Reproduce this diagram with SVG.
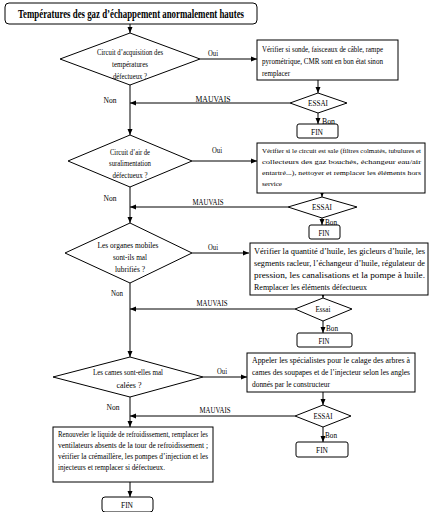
<svg xmlns="http://www.w3.org/2000/svg" width="430" height="512" viewBox="0 0 430 512">
<style>
text{font-family:"Liberation Serif","Times New Roman",serif;fill:#000;font-size:8.5px}
.c{text-anchor:middle}
.t{font-weight:bold;font-size:11.5px}
.sm{font-size:7px}
.s{fill:#fff;stroke:#000;stroke-width:1}
.l{fill:none;stroke:#000;stroke-width:1}
</style>
<defs>
<marker id="a" markerWidth="6" markerHeight="6" refX="6" refY="3" orient="auto" markerUnits="userSpaceOnUse"><path d="M0,0.5 L6,3 L0,5.5 z" fill="#000"/></marker>
</defs>
<rect width="430" height="512" fill="#fff"/>

<g id="connectors">
<path class="l" d="M130,24 V33" marker-end="url(#a)"/>
<path class="l" d="M200,59 H257" marker-end="url(#a)"/>
<path class="l" d="M318,80 V93" marker-end="url(#a)"/>
<path class="l" d="M290,103 H130" marker-end="url(#a)"/>
<path class="l" d="M318,113 V124" marker-end="url(#a)"/>
<path class="l" d="M130,85 V135" marker-end="url(#a)"/>
<path class="l" d="M192,161 H257" marker-end="url(#a)"/>
<path class="l" d="M322,193 V197" marker-end="url(#a)"/>
<path class="l" d="M288,207 H130" marker-end="url(#a)"/>
<path class="l" d="M322,218 V225" marker-end="url(#a)"/>
<path class="l" d="M130,187 V223" marker-end="url(#a)"/>
<path class="l" d="M192,253 H249" marker-end="url(#a)"/>
<path class="l" d="M323,295 V298" marker-end="url(#a)"/>
<path class="l" d="M295,309 H130" marker-end="url(#a)"/>
<path class="l" d="M323,321 V333" marker-end="url(#a)"/>
<path class="l" d="M130,283 V357" marker-end="url(#a)"/>
<path class="l" d="M203,377 H247" marker-end="url(#a)"/>
<path class="l" d="M323,392 V405" marker-end="url(#a)"/>
<path class="l" d="M295,416 H130" marker-end="url(#a)"/>
<path class="l" d="M323,427 V442" marker-end="url(#a)"/>
<path class="l" d="M130,397 V427" marker-end="url(#a)"/>
<path class="l" d="M130,482 V497" marker-end="url(#a)"/>
<text class="c" x="213" y="56" textLength="10" lengthAdjust="spacingAndGlyphs">Oui</text>
<text class="c" x="213" y="102" textLength="35" lengthAdjust="spacingAndGlyphs">MAUVAIS</text>
<text class="c" x="110" y="103" textLength="13" lengthAdjust="spacingAndGlyphs">Non</text>
<text x="322" y="124" textLength="13" lengthAdjust="spacingAndGlyphs">Bon</text>
<text class="c" x="217" y="153" textLength="10" lengthAdjust="spacingAndGlyphs">Oui</text>
<text class="c" x="208" y="205" textLength="31" lengthAdjust="spacingAndGlyphs">MAUVAIS</text>
<text class="c" x="110" y="201" textLength="13" lengthAdjust="spacingAndGlyphs">Non</text>
<text x="325" y="225" textLength="12" lengthAdjust="spacingAndGlyphs">Bon</text>
<text class="c" x="213" y="250" textLength="10" lengthAdjust="spacingAndGlyphs">Oui</text>
<text class="c" x="212" y="306" textLength="31" lengthAdjust="spacingAndGlyphs">MAUVAIS</text>
<text class="c" x="117" y="296" textLength="12" lengthAdjust="spacingAndGlyphs">Non</text>
<text x="326" y="331" textLength="12" lengthAdjust="spacingAndGlyphs">Bon</text>
<text class="c" x="222" y="374" textLength="10" lengthAdjust="spacingAndGlyphs">Oui</text>
<text class="c" x="215" y="413" textLength="31" lengthAdjust="spacingAndGlyphs">MAUVAIS</text>
<text class="c" x="113" y="410" textLength="13" lengthAdjust="spacingAndGlyphs">Non</text>
<text x="325" y="438" textLength="12" lengthAdjust="spacingAndGlyphs">Bon</text>
</g>

<g id="title">
<rect class="s" x="5" y="3" width="252" height="21" rx="4"/>
<text class="c t" x="131" y="18" textLength="226" lengthAdjust="spacingAndGlyphs">Températures des gaz d’échappement anormalement hautes</text>
</g>

<g id="d1">
<polygon class="s" points="130,33 200,59 130,85 60,59"/>
<text class="c" x="130" y="55" textLength="66" lengthAdjust="spacingAndGlyphs">Circuit d’acquisition des</text>
<text class="c" x="130" y="67" textLength="36" lengthAdjust="spacingAndGlyphs">températures</text>
<text class="c" x="130" y="79" textLength="34" lengthAdjust="spacingAndGlyphs">défectueux ?</text>
</g>

<g id="b1">
<rect class="s" x="257" y="40" width="141" height="40"/>
<text x="262" y="52" textLength="121" lengthAdjust="spacingAndGlyphs">Vérifier si sonde, faisceaux de câble, rampe</text>
<text x="262" y="64" textLength="121" lengthAdjust="spacingAndGlyphs">pyrométrique, CMR sont en bon état sinon</text>
<text x="262" y="76" textLength="28" lengthAdjust="spacingAndGlyphs">remplacer</text>
</g>

<g id="e1">
<polygon class="s" points="318,93 347,103 318,113 290,103"/>
<text class="c" x="318" y="106" textLength="20" lengthAdjust="spacingAndGlyphs">ESSAI</text>
</g>
<g id="f1">
<rect class="s" x="297" y="124" width="41" height="14" rx="2"/>
<text class="c" x="317" y="135" textLength="12" lengthAdjust="spacingAndGlyphs">FIN</text>
</g>

<g id="d2">
<polygon class="s" points="130,135 192,161 130,187 68,161"/>
<text class="c" x="130" y="155" textLength="40" lengthAdjust="spacingAndGlyphs">Circuit d’air de</text>
<text class="c" x="130" y="166" textLength="42" lengthAdjust="spacingAndGlyphs">suralimentation</text>
<text class="c" x="130" y="178" textLength="35" lengthAdjust="spacingAndGlyphs">défectueux ?</text>
</g>

<g id="b2">
<rect class="s" x="257" y="143" width="168" height="50"/>
<text class="sm" x="262" y="153" textLength="159" lengthAdjust="spacingAndGlyphs">Vérifier si le circuit est sale (filtres colmatés, tubulures et</text>
<text class="sm" x="262" y="164" textLength="159" lengthAdjust="spacingAndGlyphs">collecteurs   des   gaz   bouchés,   échangeur   eau/air</text>
<text class="sm" x="262" y="175" textLength="159" lengthAdjust="spacingAndGlyphs">entartré...),  nettoyer  et  remplacer  les  éléments  hors</text>
<text class="sm" x="262" y="186" textLength="20" lengthAdjust="spacingAndGlyphs">service</text>
</g>

<g id="e2">
<polygon class="s" points="322,197 357,207 322,218 288,207"/>
<text class="c" x="322" y="210" textLength="20" lengthAdjust="spacingAndGlyphs">ESSAI</text>
</g>
<g id="f2">
<rect class="s" x="309" y="225" width="31" height="14" rx="2"/>
<text class="c" x="324" y="236" textLength="11" lengthAdjust="spacingAndGlyphs">FIN</text>
</g>

<g id="d3">
<polygon class="s" points="130,223 192,253 130,283 65,253"/>
<text class="c" x="128" y="248" textLength="61" lengthAdjust="spacingAndGlyphs">Les organes mobiles</text>
<text class="c" x="130" y="260" textLength="34" lengthAdjust="spacingAndGlyphs">sont-ils mal</text>
<text class="c" x="130" y="272" textLength="30" lengthAdjust="spacingAndGlyphs">lubrifiés ?</text>
</g>

<g id="b3">
<rect class="s" x="250" y="243" width="178" height="52"/>
<text x="254" y="254" textLength="171" lengthAdjust="spacingAndGlyphs">Vérifier  la  quantité  d’huile,  les  gicleurs  d’huile,  les</text>
<text x="254" y="266" textLength="171" lengthAdjust="spacingAndGlyphs">segments  racleur,  l’échangeur  d’huile,  régulateur  de</text>
<text x="254" y="278" textLength="171" lengthAdjust="spacingAndGlyphs">pression,  les  canalisations  et  la  pompe  à  huile.</text>
<text x="254" y="290" textLength="113" lengthAdjust="spacingAndGlyphs">Remplacer les éléments défectueux</text>
</g>

<g id="e3">
<polygon class="s" points="323,298 352,309 323,321 295,309"/>
<text class="c" x="323" y="312" textLength="15" lengthAdjust="spacingAndGlyphs">Essai</text>
</g>
<g id="f3">
<rect class="s" x="297" y="333" width="55" height="14" rx="2"/>
<text class="c" x="324" y="344" textLength="11" lengthAdjust="spacingAndGlyphs">FIN</text>
</g>

<g id="d4">
<polygon class="s" points="130,357 203,377 130,397 53,377"/>
<text class="c" x="128" y="375" textLength="70" lengthAdjust="spacingAndGlyphs">Les cames sont-elles mal</text>
<text class="c" x="129" y="388" textLength="25" lengthAdjust="spacingAndGlyphs">calées ?</text>
</g>

<g id="b4">
<rect class="s" x="247" y="353" width="168" height="39"/>
<text x="252" y="363" textLength="158" lengthAdjust="spacingAndGlyphs">Appeler les spécialistes pour le calage des arbres à</text>
<text x="252" y="375" textLength="158" lengthAdjust="spacingAndGlyphs">cames des soupapes et de l’injecteur selon les angles</text>
<text x="252" y="387" textLength="78" lengthAdjust="spacingAndGlyphs">donnés par le constructeur</text>
</g>

<g id="e4">
<polygon class="s" points="323,405 351,416 323,427 295,416"/>
<text class="c" x="323" y="419" textLength="19" lengthAdjust="spacingAndGlyphs">ESSAI</text>
</g>
<g id="f4">
<rect class="s" x="296" y="442" width="52" height="15" rx="2"/>
<text class="c" x="322" y="453" textLength="12" lengthAdjust="spacingAndGlyphs">FIN</text>
</g>

<g id="b5">
<rect class="s" x="53" y="427" width="160" height="55"/>
<text x="58" y="437" textLength="150" lengthAdjust="spacingAndGlyphs">Renouveler le liquide de refroidissement, remplacer les</text>
<text x="58" y="448" textLength="150" lengthAdjust="spacingAndGlyphs">ventilateurs  absents  de  la  tour  de  refroidissement  ;</text>
<text x="58" y="459" textLength="150" lengthAdjust="spacingAndGlyphs">vérifier la crémaillère, les pompes d’injection et les</text>
<text x="58" y="470" textLength="107" lengthAdjust="spacingAndGlyphs">injecteurs et remplacer si défectueux.</text>
</g>

<g id="f5">
<rect class="s" x="102" y="497" width="51" height="15" rx="3"/>
<text class="c" x="127" y="508" textLength="12" lengthAdjust="spacingAndGlyphs">FIN</text>
</g>
</svg>
